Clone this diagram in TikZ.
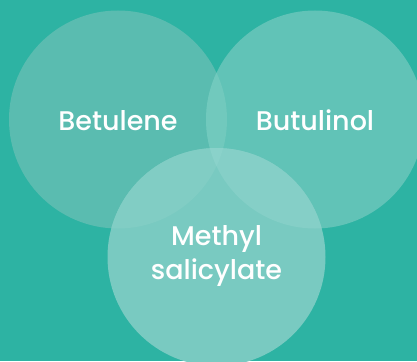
\documentclass[tikz,border=0pt]{standalone}
\usepackage{fontspec}
\setmainfont{Poppins Medium}
\definecolor{bg}{RGB}{45,179,163}
\definecolor{cA}{RGB}{90,188,176}
\definecolor{cB}{RGB}{97,195,183}
\definecolor{cC}{RGB}{121,202,193}
\definecolor{cAB}{RGB}{113,201,189}
\definecolor{cAC}{RGB}{129,205,196}
\definecolor{cBC}{RGB}{133,207,199}
\definecolor{cABC}{RGB}{138,210,202}
\begin{document}
\begin{tikzpicture}[x=1pt,y=-1pt,
  venn/.style={circle, minimum size=218pt, inner sep=0pt},
  lbl/.style={text=white, font=\fontsize{27}{34}\selectfont, align=center}]
\fill[bg] (0,0) rectangle (417,361);
\useasboundingbox (0,0) rectangle (417,361);
\begin{scope}
\clip (0,0) rectangle (417,361);
\node[venn, fill=cA] (c1) at (118,119.5) {};
\node[venn, fill=cB] (c2) at (315,119.5) {};
\node[venn, fill=cC] (c3) at (216.5,257) {};
\begin{scope}
\clip (118,119.5) circle (109pt);
\fill[cAB] (315,119.5) circle (109pt);
\fill[cAC] (216.5,257) circle (109pt);
\end{scope}
\begin{scope}
\clip (315,119.5) circle (109pt);
\fill[cBC] (216.5,257) circle (109pt);
\clip (118,119.5) circle (109pt);
\fill[cABC] (216.5,257) circle (109pt);
\end{scope}
\end{scope}
\node[lbl] (t1) at (118,121) {Betulene};
\node[lbl] (t2) at (315,120) {Butulinol};
\node[lbl] (t3) at (216.5,256) {Methyl\\salicylate};
\end{tikzpicture}
\end{document}
